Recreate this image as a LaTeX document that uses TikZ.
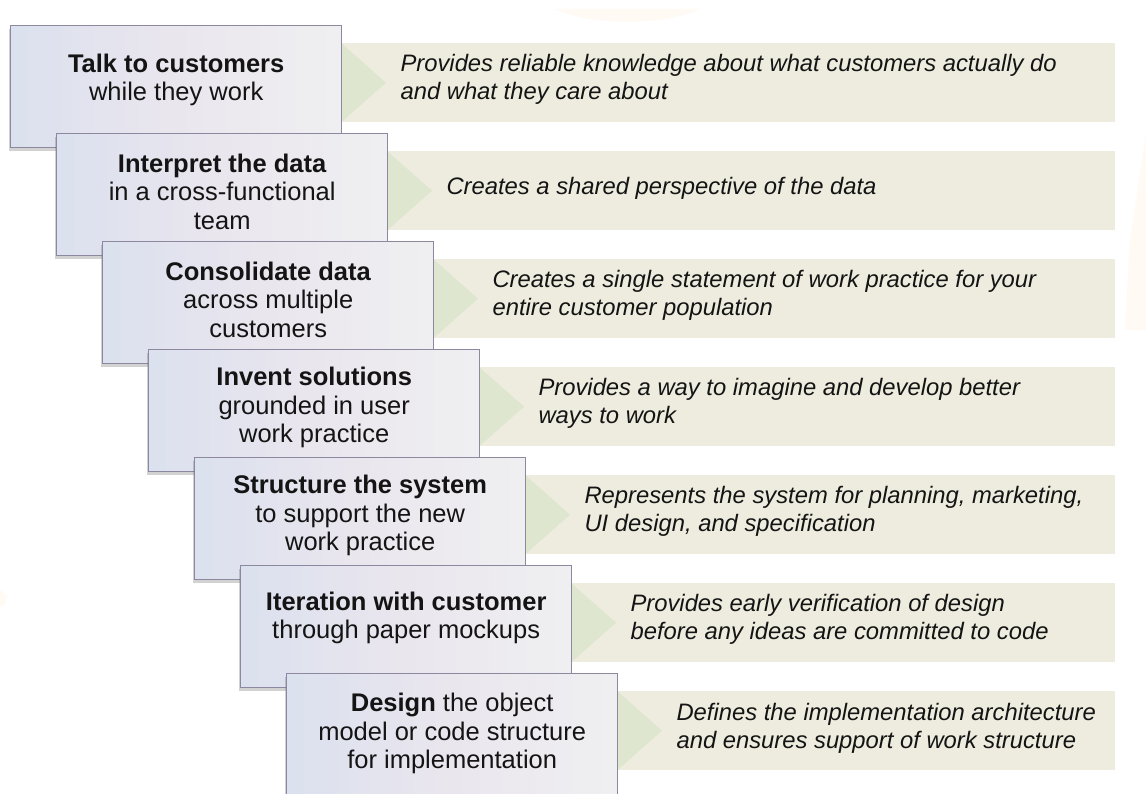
\documentclass[tikz,border=0pt]{standalone}
\usepackage{fontspec}
\setmainfont{Liberation Sans}
\usetikzlibrary{shadows}
\definecolor{bandfill}{RGB}{238,236,222}
\definecolor{tri}{RGB}{222,230,208}
\definecolor{boxline}{RGB}{140,136,160}
\definecolor{boxL}{RGB}{219,225,238}
\definecolor{boxM}{RGB}{234,230,238}
\definecolor{boxR}{RGB}{239,239,241}
\definecolor{wm}{RGB}{255,250,243}
\definecolor{ink}{RGB}{20,20,20}
\tikzset{
  stepbox/.style={draw=boxline, line width=1.4pt, left color=boxL, right color=boxR,
    middle color=boxM, minimum width=331pt, minimum height=122pt, inner sep=0pt,
    anchor=north west,
    drop shadow={shadow xshift=-2pt, shadow yshift=-3pt, opacity=0.25, fill=black!70}},
  band/.style={fill=bandfill, draw=none, minimum height=79pt, inner sep=0pt, anchor=north west},
  boxtext/.style={align=center, font=\fontsize{25.5}{28.5}\selectfont, text=ink},
  bandtext/.style={align=left, anchor=west, font=\fontsize{23.8}{28}\selectfont\itshape, text=ink},
}
\newcommand\mystep[5]{%
  \pgfmathsetmacro\bl{10+46*(#1-1)}%
  \pgfmathsetmacro\bt{25+108*(#1-1)}%
  \pgfmathsetmacro\br{\bl+331}%
  \pgfmathsetmacro\rt{\bt+18}%
  \pgfmathsetmacro\rw{1115-\br}%
  \node[band, minimum width=\rw pt] (r#1) at (\br,\rt) {};
  \fill[tri] (r#1.north west) -- ([xshift=45pt]r#1.west) -- (r#1.south west) -- cycle;
  \node[bandtext] (t#1) at ([xshift=56pt, yshift=#5]r#1.west) {#3};
  \node[stepbox] (b#1) at (\bl,\bt) {};
  \node[boxtext] (s#1) at ([yshift=#4]b#1.center) {#2};
}
\begin{document}
\begin{tikzpicture}[x=1pt,y=-1pt]
\useasboundingbox (0,0) rectangle (1146,794);
\fill[white] (0,0) rectangle (1146,794);
% faint watermark
\fill[wm] (555,9) .. controls (590,26) and (665,26) .. (700,9) -- cycle;
\fill[wm] (1146,135) -- (1130,240) -- (1125,330) -- (1146,330) -- cycle;
\fill[wm] (0,590) -- (7,596) -- (4,606) -- (0,606) -- cycle;
\mystep{1}{\textbf{Talk to customers}\\while they work}{Provides reliable knowledge about what customers actually do\\and what they care about}{7pt}{3pt}
\mystep{2}{\textbf{Interpret the data}\\in a cross-functional\\team}{Creates a shared perspective of the data}{3pt}{2pt}
\mystep{3}{\textbf{Consolidate data}\\across multiple\\customers}{Creates a single statement of work practice for your\\entire customer population}{3pt}{3pt}
\mystep{4}{\textbf{Invent solutions}\\grounded in user\\work practice}{Provides a way to imagine and develop better\\ways to work}{3pt}{3pt}
\mystep{5}{\textbf{Structure the system}\\to support the new\\work practice}{Represents the system for planning, marketing,\\UI design, and specification}{3pt}{3pt}
\mystep{6}{\textbf{Iteration with customer}\\through paper mockups}{Provides early verification of design\\before any ideas are committed to code}{9pt}{3pt}
\mystep{7}{\textbf{Design} the object\\model or code structure\\for implementation}{Defines the implementation architecture\\and ensures support of work structure}{1pt}{2pt}
\end{tikzpicture}
\end{document}
